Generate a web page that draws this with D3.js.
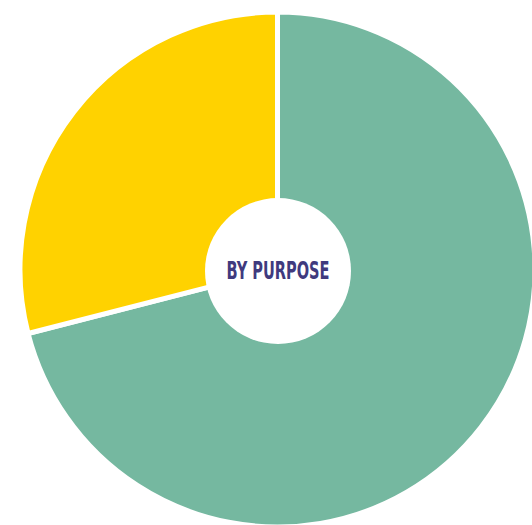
<!DOCTYPE html>
<html>
<head>
<meta charset="utf-8">
<script src="https://cdn.jsdelivr.net/npm/d3@7"></script>
<style>
  html, body { margin: 0; padding: 0; background: #fff; }
  svg { display: block; }
</style>
</head>
<body>
<svg id="chart" width="532" height="525"></svg>
<script>
const categories = ["Purpose A", "Purpose B"];
const values = [71, 29];
const colors = ["#75B8A0", "#FFD200"];
const centerLabel = "BY PURPOSE";

const svg = d3.select("#chart");
const cx = 277.5, cy = 269.5;
const outerR = 257.5, innerR = 0;

const g = svg.append("g").attr("transform", `translate(${cx},${cy})`);

const pie = d3.pie().sort(null).value(d => d);
const arc = d3.arc().innerRadius(innerR).outerRadius(outerR);

g.selectAll("path.slice")
  .data(pie(values))
  .join("path")
  .attr("class", "slice")
  .attr("d", arc)
  .attr("fill", (d, i) => colors[i])
  .attr("stroke", "#fff")
  .attr("stroke-width", 5)
  .attr("stroke-linejoin", "miter");

g.append("circle")
  .attr("cx", 0.5).attr("cy", 1.5)
  .attr("r", 73)
  .attr("fill", "#fff");

g.append("text")
  .attr("x", 0.5)
  .attr("y", 9.5)
  .attr("text-anchor", "middle")
  .attr("font-family", "'Liberation Sans Narrow', 'DejaVu Sans Condensed', 'Roboto', sans-serif")
  .attr("font-weight", "bold")
  .attr("font-size", 25)
  .attr("fill", "#3F3A7E")
  .attr("textLength", 103)
  .attr("lengthAdjust", "spacingAndGlyphs")
  .text(centerLabel);
</script>
</body>
</html>
